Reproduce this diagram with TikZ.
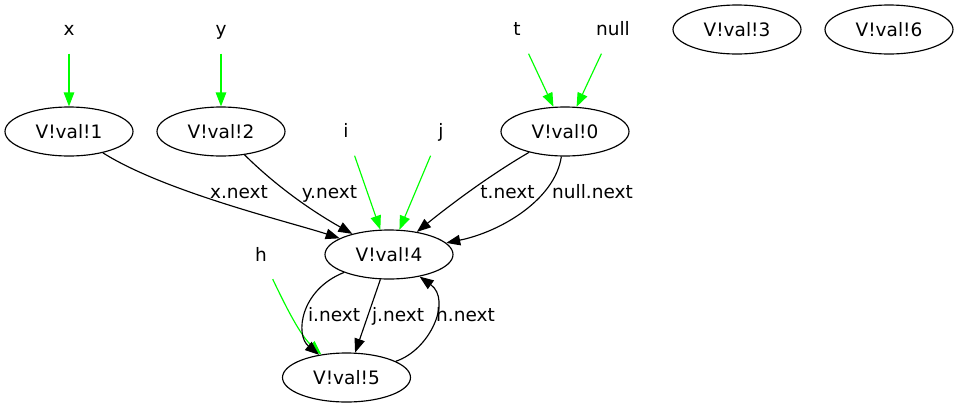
\documentclass[tikz,border=0pt]{standalone}
\usepackage{fontspec}
\setmainfont{DejaVu Sans}
\usetikzlibrary{shapes.geometric,arrows.meta}
\definecolor{ptrgreen}{RGB}{0,255,0}
\tikzset{
  val/.style={ellipse,draw,line width=1.15pt,minimum width=128pt,minimum height=49pt,inner sep=0pt,text height=13pt,text depth=0pt},
  var/.style={rectangle,minimum width=73pt,minimum height=49pt,inner sep=0pt,text height=13pt,text depth=0pt},
  lab/.style={inner sep=0pt,text height=13pt,text depth=0pt},
  edge/.style={line width=1.15pt,-{Triangle[length=14pt,width=10.5pt]}},
  ptr/.style={edge,draw=ptrgreen},
  nxt/.style={edge,draw=black}
}
\begin{document}
\begin{tikzpicture}[x=1pt,y=-1pt,font=\fontsize{18.5pt}{20pt}\selectfont]
\useasboundingbox (0,0) rectangle (959,408);
% variable labels
\node[var] (x) at (69,29) {x};
\node[var] (y) at (221,29) {y};
\node[var] (t) at (517,29) {t};
\node[var] (null) at (613,29) {null};
\node[var] (i) at (346,131) {i};
\node[var] (j) at (441,131) {j};
\node[var] (h) at (261,254.5) {h};
% value nodes
\node[val] (v1) at (69,131.5) {V!val!1};
\node[val] (v2) at (221,131.5) {V!val!2};
\node[val] (v0) at (565,131.5) {V!val!0};
\node[val] (v3) at (737,29.5) {V!val!3};
\node[val] (v6) at (889,29.5) {V!val!6};
\node[val] (v4) at (389,254.5) {V!val!4};
\node[val] (v5) at (346.5,377.5) {V!val!5};
% pointer edges
\draw[ptr] (x) -- (v1);
\draw[ptr] (y) -- (v2);
\draw[ptr] (t) -- (v0);
\draw[ptr] (null) -- (v0);
\draw[ptr] (i) -- (v4);
\draw[ptr] (j) -- (v4);
\draw[ptr] (h) .. controls (285,305) and (300,335) .. (v5);
% next edges
\draw[nxt] (v1) .. controls (165,192) and (290,222) .. (v4);
\draw[nxt] (v2) .. controls (275,185) and (310,210) .. (v4);
\draw[nxt] (v0) .. controls (490,175) and (450,205) .. (v4);
\draw[nxt] (v0) .. controls (555,200) and (500,232) .. (v4);
\draw[nxt] (v4) .. controls (300,290) and (295,335) .. (v5);
\draw[nxt] (v4) -- (v5);
\draw[nxt] (v5) .. controls (430,350) and (452,300) .. (v4);
% edge labels
\node[lab] (lx) at (239,192) {x.next};
\node[lab] (ly) at (329.5,192) {y.next};
\node[lab] (lt) at (507.5,192) {t.next};
\node[lab] (lnull) at (592.5,192) {null.next};
\node[lab] (li) at (334,315) {i.next};
\node[lab] (lj) at (398,315) {j.next};
\node[lab] (lh) at (465.5,315) {h.next};
\end{tikzpicture}
\end{document}
